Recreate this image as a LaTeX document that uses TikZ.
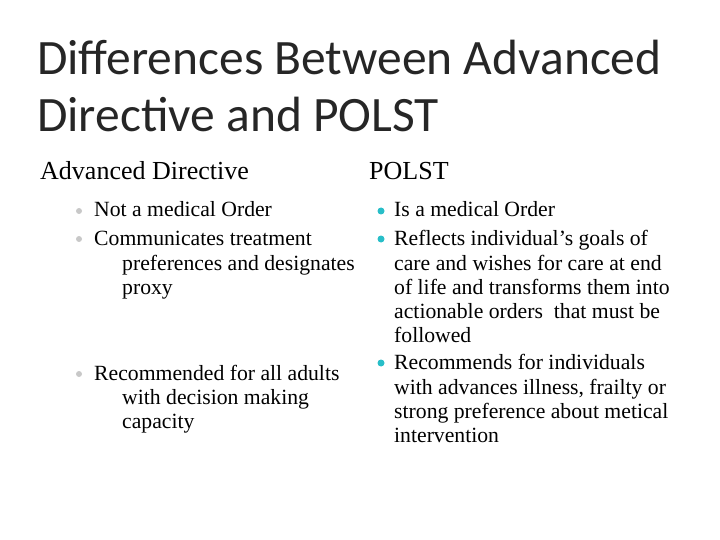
\documentclass[tikz,border=0pt]{standalone}
\usepackage{fontspec}
\setmainfont{Liberation Serif}
\newfontfamily\titlefont{Carlito}
\definecolor{teal1}{RGB}{40,190,200}
\definecolor{grey1}{RGB}{200,200,200}
\begin{document}
\begin{tikzpicture}[x=1pt,y=-1pt,
  ttl/.style={anchor=base west,inner sep=0,font=\titlefont\fontsize{49.5}{54}\selectfont,text=black!85},
  hdr/.style={anchor=base west,inner sep=0,font=\fontsize{26}{30}\selectfont},
  txt/.style={anchor=base west,inner sep=0,font=\fontsize{21.7}{26}\selectfont},
  gb/.style={circle,fill=grey1,inner sep=0,minimum size=6pt},
  tb/.style={circle,fill=teal1,inner sep=0,minimum size=7pt}]
\useasboundingbox (0,0) rectangle (720,540);
\node[ttl] (t1) at (37,75) {Differences Between Advanced};
\node[ttl] (t2) at (37,132) {Directive and POLST};
\node[hdr] (h1) at (40,180) {Advanced Directive};
\node[hdr] (h2) at (369,180) {POLST};
% left
\node[gb] (lb1) at (79,211) {};
\node[txt] (l1) at (94,217) {Not a medical Order};
\node[gb] (lb2) at (79,239) {};
\node[txt] (l2) at (94,245) {Communicates treatment};
\node[txt] (l3) at (122,270) {preferences and designates};
\node[txt] (l4) at (122,294) {proxy};
\node[gb] (lb3) at (79,374) {};
\node[txt] (l5) at (94,380) {Recommended for all adults};
\node[txt] (l6) at (122,404) {with decision making};
\node[txt] (l7) at (122,428) {capacity};
% right
\node[tb] (rb1) at (381,211) {};
\node[txt] (r1) at (394,217) {Is a medical Order};
\node[tb] (rb2) at (381,239) {};
\node[txt] (r2) at (394,245) {Reflects individual’s goals of};
\node[txt] (r3) at (394,270) {care and wishes for care at end};
\node[txt] (r4) at (394,294) {of life and transforms them into};
\node[txt] (r5) at (394,318) {actionable orders\ \ that must be};
\node[txt] (r6) at (394,342) {followed};
\node[tb] (rb3) at (381,363) {};
\node[txt] (r7) at (394,369) {Recommends for individuals};
\node[txt] (r8) at (394,394) {with advances illness, frailty or};
\node[txt] (r9) at (394,418) {strong preference about metical};
\node[txt] (r10) at (394,442) {intervention};
\end{tikzpicture}
\end{document}
